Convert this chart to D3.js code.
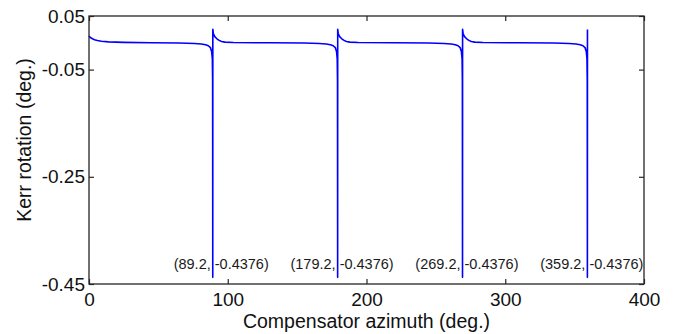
<!DOCTYPE html>
<html>
<head>
<meta charset="utf-8">
<script src="https://cdn.jsdelivr.net/npm/d3@7"></script>
<style>
  body { margin: 0; background: #fff; }
  svg { font-family: "Liberation Sans", Arial, sans-serif; }
</style>
</head>
<body>
<svg width="687" height="334"></svg>
<script>
// compensator azimuth (deg.) and Kerr rotation (deg.)
const azimuth = [
  0, 0.4, 1.2, 2.5, 4, 6, 9, 14, 25, 45, 65, 76, 81, 84, 86, 87.5, 88.4, 88.9, 89.1, 89.2,
  89.25, 89.6, 90.3, 91, 92, 93.5, 95.5, 98, 104, 130, 155, 166, 171, 174, 176, 177.5, 178.4, 178.9, 179.1, 179.2,
  179.25, 179.6, 180.3, 181, 182, 183.5, 185.5, 188, 194, 220, 245, 256, 261, 264, 266, 267.5, 268.4, 268.9, 269.1, 269.2,
  269.25, 269.6, 270.3, 271, 272, 273.5, 275.5, 278, 284, 310, 335, 346, 351, 354, 356, 357.5, 358.4, 358.9, 359.1, 359.2,
  359.25
];
const kerr = [
  0.013, 0.0115, 0.0095, 0.0075, 0.0058, 0.0042, 0.003, 0.0018, 0.0008, 0.0, -0.0005, -0.0012, -0.0022, -0.0035, -0.0055, -0.009, -0.016, -0.03, -0.07, -0.4376,
  0.025, 0.018, 0.013, 0.0105, 0.008, 0.005, 0.0025, 0.0012, 0.0005, 0.0, -0.0005, -0.0012, -0.0022, -0.0035, -0.0055, -0.009, -0.016, -0.03, -0.07, -0.4376,
  0.025, 0.018, 0.013, 0.0105, 0.008, 0.005, 0.0025, 0.0012, 0.0005, 0.0, -0.0005, -0.0012, -0.0022, -0.0035, -0.0055, -0.009, -0.016, -0.03, -0.07, -0.4376,
  0.025, 0.018, 0.013, 0.0105, 0.008, 0.005, 0.0025, 0.0012, 0.0005, 0.0, -0.0005, -0.0012, -0.0022, -0.0035, -0.0055, -0.009, -0.016, -0.03, -0.07, -0.4376,
  0.025
];

// minima marked on the plot
const minAz = [89.2, 179.2, 269.2, 359.2];
const minKerr = [-0.4376, -0.4376, -0.4376, -0.4376];

const xTicks = [0, 100, 200, 300, 400];
const yTicks = [0.05, -0.05, -0.25, -0.45];

const svg = d3.select("svg");
const margin = { top: 16, right: 43, bottom: 50, left: 89 };
const width = +svg.attr("width") - margin.left - margin.right;
const height = +svg.attr("height") - margin.top - margin.bottom;
const axisColor = "#262626";

const xScale = d3.scaleLinear().domain([0, 400]).range([0, width]);
const yScale = d3.scaleLinear().domain([-0.45, 0.05]).range([height, 0]);

const g = svg.append("g")
  .attr("transform", "translate(" + margin.left + "," + margin.top + ")");

// curve
const line = d3.line()
  .x(d => xScale(d[0]))
  .y(d => yScale(d[1]));

g.append("path")
  .datum(azimuth.map((a, i) => [a, kerr[i]]))
  .attr("fill", "none")
  .attr("stroke", "#0000ff")
  .attr("stroke-width", 1.6)
  .attr("stroke-linejoin", "round")
  .attr("d", line);

// axes (box with inward ticks on all sides)
const styleAxis = sel => {
  sel.select(".domain").remove();
  sel.selectAll(".tick line").attr("stroke", axisColor).attr("stroke-width", 1.2);
  sel.selectAll("text").attr("fill", "#111").attr("font-size", "19px").attr("font-family", "Liberation Sans, Arial, sans-serif");
};

g.append("g")
  .attr("transform", "translate(0," + height + ")")
  .call(d3.axisBottom(xScale).tickValues(xTicks).tickFormat(d3.format("d")).tickSizeInner(-5).tickPadding(9))
  .call(styleAxis);

g.append("g")
  .call(d3.axisTop(xScale).tickValues(xTicks).tickSizeInner(-5).tickFormat(""))
  .call(styleAxis);

g.append("g")
  .call(d3.axisLeft(yScale).tickValues(yTicks).tickFormat(d3.format(".2f")).tickSizeInner(-5).tickPadding(4))
  .call(styleAxis)
  .selectAll("text")
  .text(d => d3.format(".2f")(d).replace("−", "-"));

g.append("g")
  .attr("transform", "translate(" + width + ",0)")
  .call(d3.axisRight(yScale).tickValues(yTicks).tickSizeInner(-5).tickFormat(""))
  .call(styleAxis);

g.append("rect")
  .attr("width", width)
  .attr("height", height)
  .attr("fill", "none")
  .attr("stroke", axisColor)
  .attr("stroke-width", 1.3);

// data tip labels
const tips = g.selectAll(".tip")
  .data(minAz.map((a, i) => [a, minKerr[i]]))
  .enter()
  .append("g")
  .attr("class", "tip")
  .attr("font-size", "14.5px")
  .attr("fill", "#1a1a1a");

tips.append("text")
  .attr("x", d => xScale(d[0]) - 2)
  .attr("y", height - 15)
  .attr("text-anchor", "end")
  .text(d => "(" + d[0] + ",");

tips.append("text")
  .attr("x", d => xScale(d[0]) + 2)
  .attr("y", height - 15)
  .text(d => d[1] + ")");

// axis titles
svg.append("text")
  .attr("x", margin.left + width / 2)
  .attr("y", 328)
  .attr("text-anchor", "middle")
  .attr("font-size", "19.5px")
  .attr("fill", "#111")
  .text("Compensator azimuth (deg.)");

svg.append("text")
  .attr("transform", "translate(31,140) rotate(-90)")
  .attr("text-anchor", "middle")
  .attr("font-size", "19.5px")
  .attr("fill", "#111")
  .text("Kerr rotation (deg.)");
</script>
</body>
</html>
